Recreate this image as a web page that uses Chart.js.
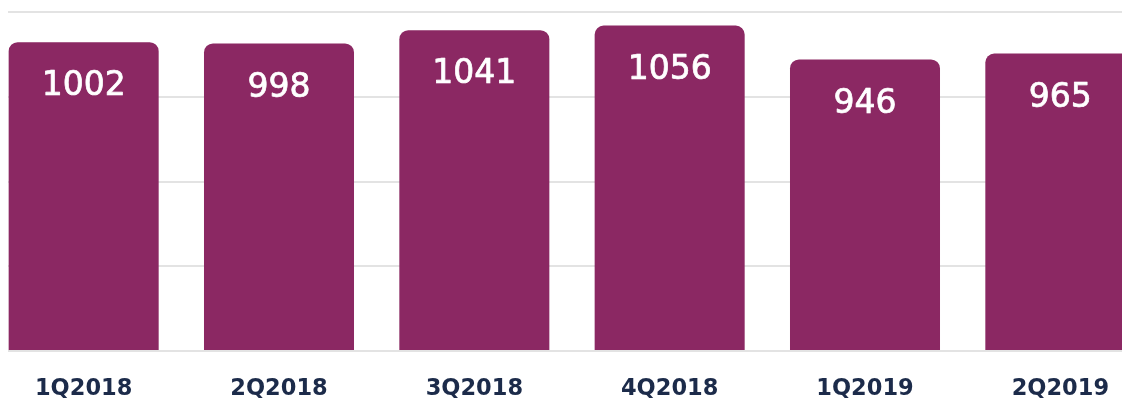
<!DOCTYPE html>
<html>
<head>
<meta charset="utf-8">
<script src="https://cdn.jsdelivr.net/npm/chart.js@4/dist/chart.umd.min.js"></script>
<style>
  html, body { margin: 0; padding: 0; background: #ffffff; overflow: hidden; }
  #wrap { position: absolute; left: -14px; top: 0; width: 1172px; height: 401px; }
  #mask { position: absolute; left: 0; top: 0; width: 8px; height: 401px; background: #ffffff; }
</style>
</head>
<body>
<div id="wrap"><canvas id="c"></canvas></div>
<div id="mask"></div>
<script>
const categories = ['1Q2018', '2Q2018', '3Q2018', '4Q2018', '1Q2019', '2Q2019'];
const values = [1002, 998, 1041, 1056, 946, 965];
const yMin = 0;
const yMax = 1100;
const yStep = 275;

const valueLabels = {
  id: 'valueLabels',
  afterDatasetsDraw(chart) {
    const ctx = chart.ctx;
    const meta = chart.getDatasetMeta(0);
    ctx.save();
    ctx.fillStyle = '#ffffff';
    ctx.strokeStyle = '#ffffff';
    ctx.lineWidth = 0.7;
    ctx.lineJoin = 'round';
    ctx.font = '33px "DejaVu Sans", sans-serif';
    ctx.textAlign = 'center';
    ctx.textBaseline = 'middle';
    meta.data.forEach((el, i) => {
      const t = String(values[i]);
      ctx.fillText(t, el.x, el.y + 44.5);
      ctx.strokeText(t, el.x, el.y + 44.5);
    });
    ctx.restore();
  }
};

new Chart(document.getElementById('c'), {
  type: 'bar',
  data: {
    labels: categories,
    datasets: [{
      data: values,
      backgroundColor: '#8b2863',
      borderRadius: 9,
      borderSkipped: 'start',
      barPercentage: 0.768,
      categoryPercentage: 1.0
    }]
  },
  options: {
    responsive: true,
    maintainAspectRatio: false,
    animation: false,
    layout: { padding: { top: 12, left: 0, right: 0, bottom: 0 } },
    plugins: { legend: { display: false }, tooltip: { enabled: false } },
    scales: {
      x: {
        grid: { display: false, drawTicks: false },
        border: { display: false },
        ticks: {
          color: '#1c2b4a',
          font: { family: '"DejaVu Sans", sans-serif', size: 22.5, weight: 'bold' },
          padding: 25,
          maxRotation: 0
        },
        afterFit(scale) { scale.height = 50; }
      },
      y: {
        min: yMin,
        max: yMax,
        ticks: { display: false, stepSize: yStep },
        grid: { color: '#e3e3e3', lineWidth: 2, drawTicks: false },
        border: { display: false }
      }
    }
  },
  plugins: [valueLabels]
});
</script>
</body>
</html>
